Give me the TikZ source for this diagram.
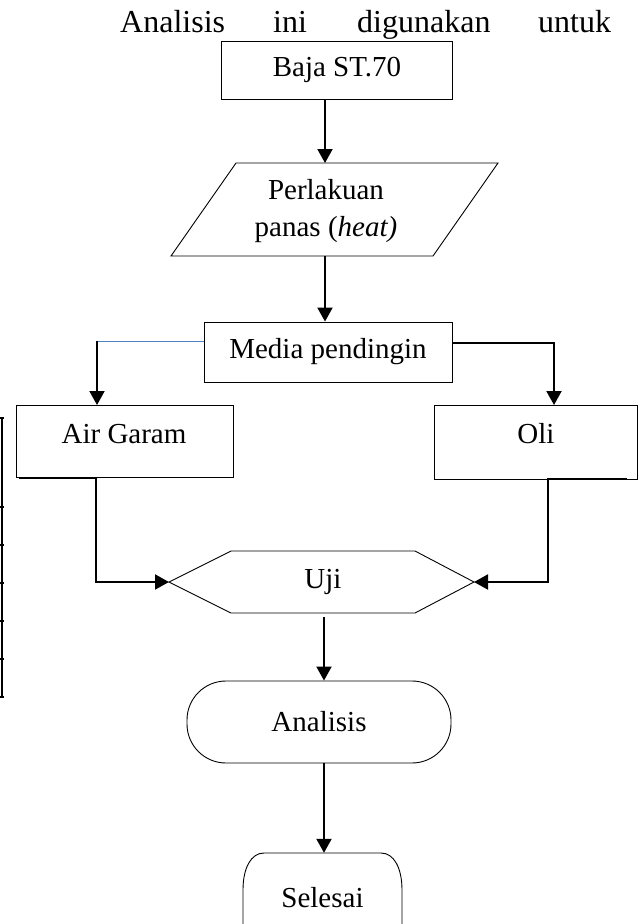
\documentclass[tikz,border=0pt]{standalone}
\usepackage{fontspec}
\setmainfont{Liberation Serif}
\usetikzlibrary{arrows.meta}
\definecolor{wordblue}{RGB}{79,129,189}
\begin{document}
\begin{tikzpicture}[x=1pt,y=-1pt,
  box/.style={draw, line width=0.9pt, inner sep=0pt},
  outline/.style={line width=0.9pt},
  conn/.style={line width=2pt},
  arr/.style={conn, -{Triangle[length=14pt,width=15pt]}},
  lbl/.style={font=\fontsize{29}{35}\selectfont, inner sep=0pt},
  toptext/.style={font=\fontsize{32}{38}\selectfont, inner sep=0pt, anchor=base west}]
\useasboundingbox (0,0) rectangle (640,924);

% top text fragment
\node[toptext] (w1) at (120,32) {Analisis};
\node[toptext] (w2) at (273,32) {ini};
\node[toptext] (w3) at (357,32) {digunakan};
\node[toptext] (w4) at (538,32) {untuk};

% left table fragment
\draw[line width=2pt] (1.5,418) -- (1.5,697);
\foreach \yy in {418,507,545,583,621,659,697}
  \draw[line width=1.5pt] (0,\yy) -- (4,\yy);

% Baja ST.70
\node[box, lbl, minimum width=231, minimum height=58] (baja) at (337,70) {Baja ST.70};

% Perlakuan panas (parallelogram)
\draw[outline] (236,163) -- (498,163) -- (433,256) -- (171,256) -- cycle;
\coordinate (pTop) at (325,163);
\coordinate (pBot) at (325,256);
\node[lbl, align=center] (perl) at (326,211) {Perlakuan\\[2pt]panas (\textit{heat)}};

% Media pendingin
\node[box, lbl, minimum width=248, minimum height=60] (media) at (328,352) {Media pendingin};
\coordinate (mL) at (204,341);
\coordinate (mR) at (452,343);

% Air Garam and Oli
\node[box, minimum width=217, minimum height=72] (air) at (124.5,441) {};
\node[lbl] (airt) at (124,434) {Air Garam};
\node[box, minimum width=203, minimum height=74] (oli) at (535.5,442) {};
\node[lbl] (olit) at (536,434) {Oli};
\coordinate (aTop) at (97,405);
\coordinate (oTop) at (554,405);
\coordinate (aBot) at (19,477.5);
\coordinate (aDrop) at (96,477.5);
\coordinate (oBot) at (627,478.5);
\coordinate (oDrop) at (548,478.5);

% Uji hexagon
\draw[outline] (169,582) -- (231,551) -- (415,551) -- (474,582) -- (415,613) -- (231,613) -- cycle;
\coordinate (uL) at (169,582);
\coordinate (uR) at (474,582);
\coordinate (uB) at (324,617);
\node[lbl] (uji) at (323,582) {Uji};

% Analisis
\node[box, lbl, rounded corners=39pt, minimum width=264, minimum height=82] (anal) at (319,722) {Analisis};

% Selesai
\node[lbl, minimum width=159, minimum height=90] (sel) at (322.5,898) {Selesai};
\draw[outline] (243,930) -- (243,890) .. controls (243,868) and (251,853) .. (264,853)
  -- (381,853) .. controls (394,853) and (402,868) .. (402,890) -- (402,930);

% connectors
\draw[arr] (baja.south -| pTop) -- (pTop);
\draw[arr] (pBot) -- (media.north -| pBot);
\draw[line width=1pt, wordblue] (mL) -- (mL -| aTop);
\draw[arr] (mL -| aTop) -- (aTop);
\draw[arr] (mR) -| (oTop);
\draw[arr] (aBot) -- (aDrop) |- (uL);
\draw[arr] (oBot) -- (oDrop) |- (uR);
\draw[arr] (uB) -- (anal.north -| uB);
\draw[arr] (anal.south -| uB) -- (sel.north -| uB);
\end{tikzpicture}
\end{document}
